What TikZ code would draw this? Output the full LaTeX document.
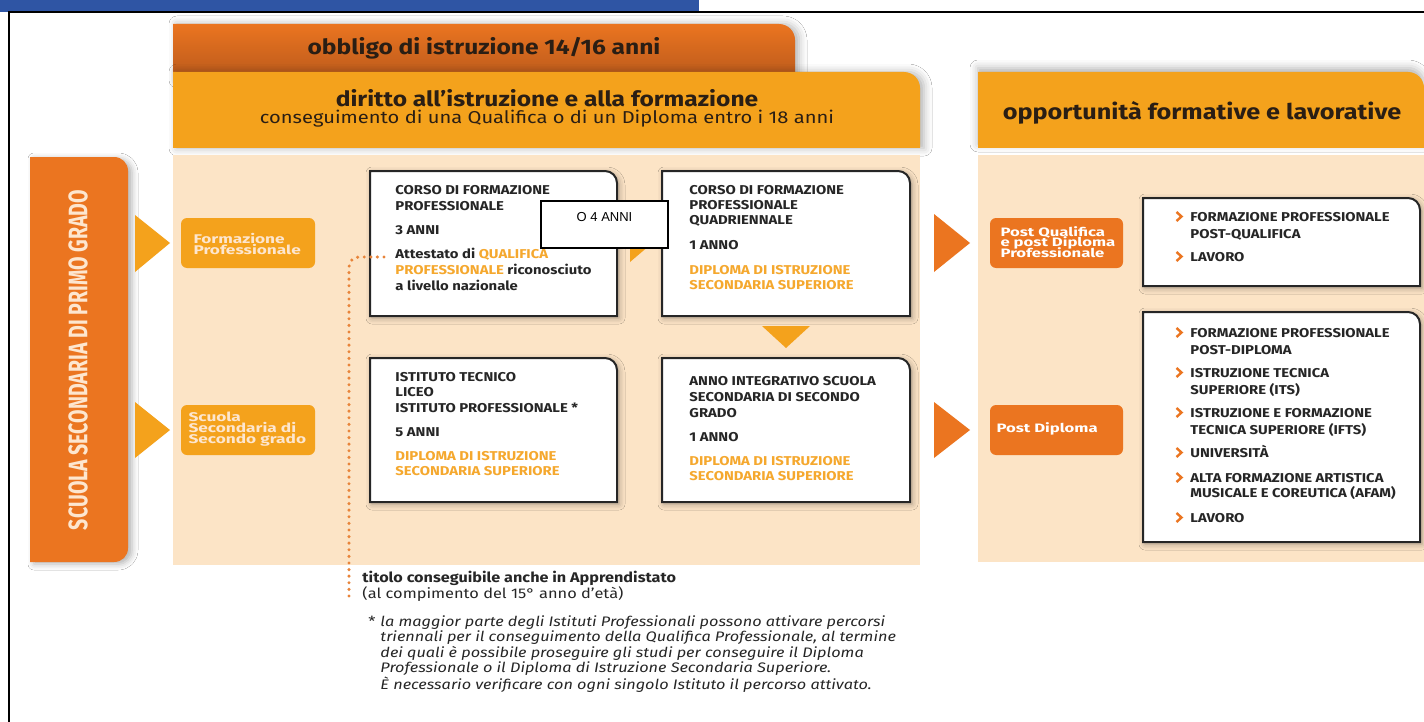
\documentclass[tikz,border=0pt]{standalone}
\usepackage{fontspec}
\setmainfont{Fira Sans}
\newfontfamily\arialf{Liberation Sans}
\usepackage{graphicx}
\usetikzlibrary{shadows.blur}
\definecolor{blueb}{HTML}{2F55A4}
\definecolor{ob}{HTML}{EB7520}
\definecolor{obd}{HTML}{B9591C}
\definecolor{oa}{HTML}{F4A21C}
\definecolor{beige}{HTML}{FCE4C6}
\definecolor{tdark}{HTML}{262626}
\definecolor{hdark}{HTML}{2A1E14}
\definecolor{otext}{HTML}{F5A82E}
\definecolor{peach}{HTML}{FDE6CF}
\definecolor{dotc}{HTML}{E8843A}
\newcommand{\trr}[6]{\path[#1] (#2,#5) -- (#2,#3) -- ({#4-#6},#3) .. controls ({#4-0.45*#6},#3) and (#4,{#3+0.45*#6}) .. (#4,{#3+#6}) -- (#4,#5) -- cycle;}
\newcommand{\chev}[2]{\draw[chevst] ({#1-2.5},{#2-9}) -- ({#1+2.5},{#2-4.5}) -- ({#1-2.5},{#2});}
\newcommand{\Ln}[5][]{\node[ln,#1] (#2) at (#3,#4) {#5};}
\begin{document}
\begin{tikzpicture}[x=0.5pt,y=-0.5pt,
  ln/.style={anchor=base west, inner sep=0, xscale=1.16, font=\fontsize{6.4}{7.5}\selectfont\bfseries, text=tdark},
  lno/.style={text=otext},
  sm/.style={anchor=base west, inner sep=0, xscale=1.18, font=\fontsize{6.3}{6}\selectfont\bfseries, text=peach},
  rsm/.style={anchor=base west, inner sep=0, xscale=1.18, font=\fontsize{6.1}{6}\selectfont\bfseries, text=white},
  hd/.style={inner sep=0, xscale=1.17, font=\fontsize{10.5}{12}\selectfont\bfseries, text=hdark},
  wbox/.style={fill=white, draw=tdark, line width=1pt, blur shadow={shadow xshift=1pt, shadow yshift=-1pt, shadow blur radius=3pt, shadow opacity=35}},
  hshadow/.style={blur shadow={shadow xshift=2pt, shadow yshift=0pt, shadow blur radius=4pt, shadow opacity=30}},
  chevst/.style={draw=ob, line width=1.2pt},
  tri/.style={fill=oa},
  trid/.style={fill=ob},
  note/.style={anchor=base west, inner sep=0, xscale=1.17, font=\fontsize{7}{8}\selectfont, text=tdark},
  inote/.style={anchor=base west, inner sep=0, xscale=1.18, font=\fontsize{6.9}{8}\selectfont\itshape, text=tdark}]
\useasboundingbox (0,0) rectangle (1424,722);
\fill[white] (0,0) rectangle (1424,722);
% top bar and frame
\fill[blueb] (0,0) rectangle (699,12);
\draw[black, line width=1pt] (9,722) -- (9,12) -- (1424,12);
% headers
\trr{top color=ob, middle color=ob, bottom color=obd, hshadow}{173}{24}{795}{80}{16}
\node[hd] (h1) at (484,48) {obbligo di istruzione 14/16 anni};
\trr{fill=oa, hshadow}{173}{72}{920}{148}{16}
\node[hd] (h2) at (547,98) {diritto all’istruzione e alla formazione};
\node[inner sep=0, xscale=1.17, font=\fontsize{8.6}{10}\selectfont, text=hdark] (h2b) at (547,119) {conseguimento di una Qualifica o di un Diploma entro i 18 anni};
\trr{fill=oa, blur shadow={shadow xshift=0pt, shadow yshift=2pt, shadow blur radius=4pt, shadow opacity=30}}{978}{72}{1424}{148}{16}
\node[hd, font=\fontsize{10.8}{12}\selectfont\bfseries] (h3) at (1202,113) {opportunità formative e lavorative};
% panels
\fill[beige] (173,155) rectangle (920,565);
\fill[beige] (978,155) rectangle (1424,562);
% left vertical box
\path[fill=ob, blur shadow={shadow xshift=2pt, shadow yshift=-1pt, shadow blur radius=3pt, shadow opacity=30}] (30,157) -- (114,157) .. controls (122,157) and (128,163) .. (128,171) -- (128,548) .. controls (128,556) and (122,562) .. (114,562) -- (30,562) -- cycle;
\node[rotate=90, inner sep=0, text=peach] (vt) at (78,360) {\resizebox{170pt}{9.5pt}{\bfseries SCUOLA SECONDARIA DI PRIMO GRADO}};
% left triangles
\fill[tri] (135,215) -- (170,243) -- (135,272) -- cycle;
\fill[tri] (135,402) -- (170,430) -- (135,458) -- cycle;
% left small boxes
\fill[oa, rounded corners=3pt] (181,218) rectangle (315,268);
\Ln[sm]{fp1}{193}{243}{Formazione}
\Ln[sm]{fp2}{193}{254}{Professionale}
\fill[oa, rounded corners=3pt] (181,405) rectangle (315,455);
\Ln[sm]{ss1}{188}{421}{Scuola}
\Ln[sm]{ss2}{188}{432}{Secondaria di}
\Ln[sm]{ss3}{188}{443}{Secondo grado}
% white boxes
\trr{wbox}{370}{171}{617}{316}{12}
\Ln{b1a}{395}{194}{CORSO DI FORMAZIONE}
\Ln{b1b}{395}{210}{PROFESSIONALE}
\Ln{b1c}{395}{234}{3 ANNI}
\Ln{b1d}{395}{258}{Attestato di {\color{otext}QUALIFICA}}
\Ln{b1e}{395}{274}{{\color{otext}PROFESSIONALE} riconosciuto}
\Ln{b1f}{395}{290}{a livello nazionale}
\trr{wbox}{662}{171}{910}{316}{12}
\Ln{b2a}{689}{194}{CORSO DI FORMAZIONE}
\Ln{b2b}{689}{209}{PROFESSIONALE}
\Ln{b2c}{689}{224}{QUADRIENNALE}
\Ln{b2d}{689}{249}{1 ANNO}
\Ln[lno]{b2e}{689}{274}{DIPLOMA DI ISTRUZIONE}
\Ln[lno]{b2f}{689}{289}{SECONDARIA SUPERIORE}
\trr{wbox}{370}{358}{617}{502}{12}
\Ln{b3a}{395}{381}{ISTITUTO TECNICO}
\Ln{b3b}{395}{396}{LICEO}
\Ln{b3c}{395}{412}{ISTITUTO PROFESSIONALE *}
\Ln{b3d}{395}{436}{5 ANNI}
\Ln[lno]{b3e}{395}{460}{DIPLOMA DI ISTRUZIONE}
\Ln[lno]{b3f}{395}{475}{SECONDARIA SUPERIORE}
\trr{wbox}{662}{358}{910}{502}{12}
\Ln{b4a}{689}{385}{ANNO INTEGRATIVO SCUOLA}
\Ln{b4b}{689}{401}{SECONDARIA DI SECONDO}
\Ln{b4c}{689}{417}{GRADO}
\Ln{b4d}{689}{441}{1 ANNO}
\Ln[lno]{b4e}{689}{465}{DIPLOMA DI ISTRUZIONE}
\Ln[lno]{b4f}{689}{480}{SECONDARIA SUPERIORE}
% small arrows between boxes
\fill[tri] (630,228) -- (650,245) -- (630,262) -- cycle;
\fill[tri] (762,326) -- (810,326) -- (786,348) -- cycle;
% O 4 ANNI box
\draw[fill=white, draw=black, line width=0.6pt] (541,201) rectangle (668,248);
\node[inner sep=0, font=\arialf\fontsize{6.5}{8}\selectfont, text=black] (o4) at (604.5,217) {O 4 ANNI};
% dotted line
\coordinate (dA) at (384,257);
\coordinate (dB) at (349,257);
\coordinate (dC) at (349,600);
\draw[dotc, line width=1.7pt, line cap=round, dash pattern=on 0pt off 3.3pt, rounded corners=5pt] (dA) -- (dB) -- (dC);
% notes
\node[note, font=\fontsize{7}{8}\selectfont\bfseries, xscale=0.99] (n1) at (362,582) {titolo conseguibile anche in Apprendistato};
\node[note] (n2) at (362,598) {(al compimento del 15° anno d’età)};
\node[note] (ast) at (368,626) {*};
\node[inote] (f1) at (380,626) {la maggior parte degli Istituti Professionali possono attivare percorsi};
\node[inote] (f2) at (380,641) {triennali per il conseguimento della Qualifica Professionale, al termine};
\node[inote] (f3) at (380,657) {dei quali è possibile proseguire gli studi per conseguire il Diploma};
\node[inote] (f4) at (380,672) {Professionale o il Diploma di Istruzione Secondaria Superiore.};
\node[inote] (f5) at (380,689) {È necessario verificare con ogni singolo Istituto il percorso attivato.};
% right triangles
\fill[trid] (934,214) -- (970,243) -- (934,272) -- cycle;
\fill[trid] (934,402) -- (970,430) -- (934,458) -- cycle;
% right small boxes
\fill[ob, rounded corners=3pt] (990,218) rectangle (1123,268);
\Ln[rsm]{pq1}{1000}{236}{Post Qualifica}
\Ln[rsm]{pq2}{1000}{246.5}{e post Diploma}
\Ln[rsm]{pq3}{1000}{257}{Professionale}
\fill[ob, rounded corners=3pt] (990,405) rectangle (1123,455);
\Ln[rsm]{pd1}{996}{432}{Post Diploma}
% right boxes
\trr{wbox}{1143}{198}{1420}{286}{12}
\chev{1179}{221}
\Ln{r1a}{1190}{221}{FORMAZIONE PROFESSIONALE}
\Ln{r1b}{1190}{238}{POST-QUALIFICA}
\chev{1179}{261}
\Ln{r1c}{1190}{261}{LAVORO}
\trr{wbox}{1143}{312}{1420}{542}{12}
\chev{1179}{337}
\Ln{r2a}{1190}{337}{FORMAZIONE PROFESSIONALE}
\Ln{r2b}{1190}{354}{POST-DIPLOMA}
\chev{1179}{377}
\Ln{r2c}{1190}{377}{ISTRUZIONE TECNICA}
\Ln{r2d}{1190}{394}{SUPERIORE (ITS)}
\chev{1179}{417}
\Ln{r2e}{1190}{417}{ISTRUZIONE E FORMAZIONE}
\Ln{r2f}{1190}{434}{TECNICA SUPERIORE (IFTS)}
\chev{1179}{457}
\Ln{r2g}{1190}{457}{UNIVERSITÀ}
\chev{1179}{482}
\Ln{r2h}{1190}{482}{ALTA FORMAZIONE ARTISTICA}
\Ln{r2i}{1190}{497}{MUSICALE E COREUTICA (AFAM)}
\chev{1179}{522}
\Ln{r2j}{1190}{522}{LAVORO}
\end{tikzpicture}
\end{document}
